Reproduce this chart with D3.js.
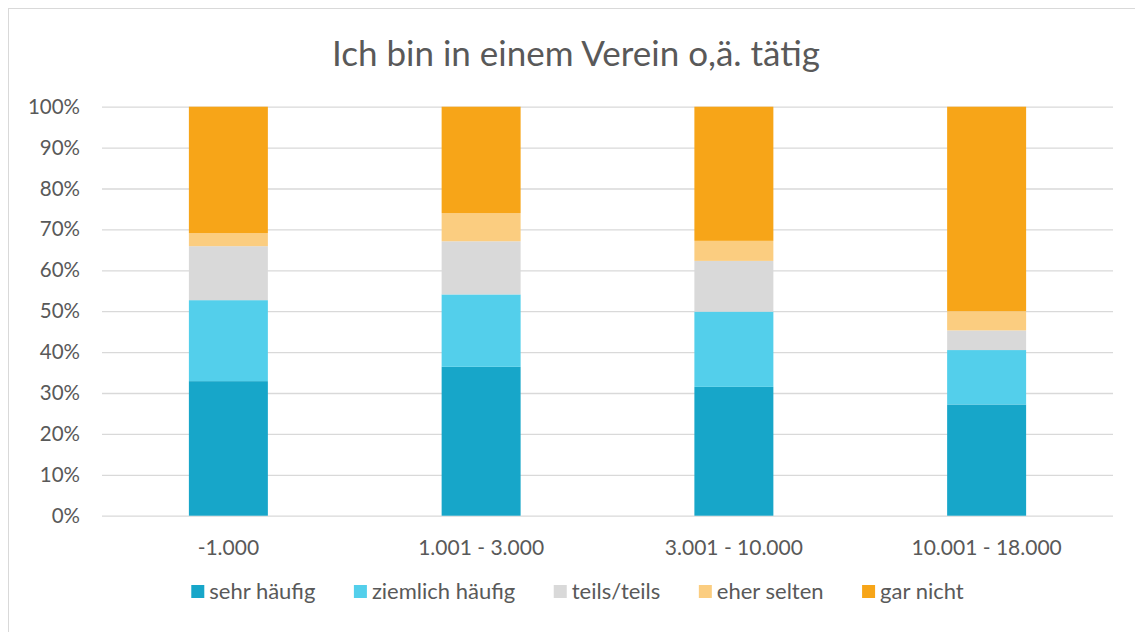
<!DOCTYPE html>
<html><head><meta charset="utf-8">
<script src="https://cdn.jsdelivr.net/npm/d3@7"></script>
<style>body{margin:0;background:#fff;} svg{display:block;} text{font-family:Lato, "Open Sans", sans-serif;}</style>
</head><body>
<svg id="c" width="1135" height="632"></svg>
<script>
const categories = ["-1.000", "1.001 - 3.000", "3.001 - 10.000", "10.001 - 18.000"];
const seriesNames = ["sehr häufig", "ziemlich häufig", "teils/teils", "eher selten", "gar nicht"];
const sehrHaeufig    = [32.9, 36.4, 31.5, 27.2];
const ziemlichHaeufig= [19.8, 17.7, 18.4, 13.3];
const teilsTeils     = [13.2, 13.0, 12.4, 4.8];
const eherSelten     = [3.2, 6.9, 4.9, 4.7];
const garNicht       = [30.9, 26.0, 32.8, 50.0];
const yTicks = [0,10,20,30,40,50,60,70,80,90,100];
const colors = ["#17A6C9", "#53CFEB", "#D9D9D9", "#FBCD80", "#F7A518"];
const title = "Ich bin in einem Verein o,ä. tätig";

const series = [sehrHaeufig, ziemlichHaeufig, teilsTeils, eherSelten, garNicht];
const rows = categories.map((c,i)=>{const o={cat:c}; seriesNames.forEach((s,j)=>o[s]=series[j][i]); return o;});
const stacked = d3.stack().keys(seriesNames)(rows);

const svg = d3.select("#c");
svg.append("rect").attr("x",8.5).attr("y",8.5).attr("width",1140).attr("height",640)
  .attr("fill","#fff").attr("stroke","#D9D9D9").attr("stroke-width",1);

const x = d3.scaleBand().domain(categories).range([102,1113]).paddingInner(0.6875).paddingOuter(0.34375);
const y = d3.scaleLinear().domain([0,100]).range([515.7,106.7]);

svg.append("text").attr("x",576).attr("y",66).attr("text-anchor","middle")
  .attr("font-size",35).attr("fill","#595959").text(title);

const gy = svg.append("g").attr("transform","translate(102,0)")
  .call(d3.axisLeft(y).tickValues(yTicks).tickFormat(d=>d+"%").tickSize(-(1113-102)).tickPadding(22));
gy.select(".domain").remove();
gy.selectAll(".tick line").attr("stroke","#D9D9D9").attr("stroke-width",1.3);
gy.selectAll(".tick text").attr("font-size",20.5).attr("fill","#595959");

svg.append("g").selectAll("g").data(stacked).join("g").attr("fill",(d,i)=>colors[i])
  .selectAll("rect").data(d=>d).join("rect")
  .attr("x",d=>x(d.data.cat)).attr("width",x.bandwidth())
  .attr("y",d=>y(d[1])).attr("height",d=>y(d[0])-y(d[1]));

const gx = svg.append("g").attr("transform","translate(0,515.7)")
  .call(d3.axisBottom(x).tickSize(0).tickPadding(24.5));
gx.select(".domain").remove();
gx.selectAll(".tick text").attr("font-size",21).attr("fill","#595959");

// legend: measure and center
const lg = svg.append("g");
const items = seriesNames.map((s,i)=>{
  const g = lg.append("g");
  g.append("rect").attr("x",0).attr("y",-14).attr("width",13).attr("height",13).attr("fill",colors[i]);
  const t = g.append("text").attr("x",18).attr("y",0).attr("font-size",22).attr("fill","#595959").text(s);
  return {g, w: 18 + t.node().getComputedTextLength()};
});
const gap = 38.5;
const total = d3.sum(items, d=>d.w) + gap*(items.length-1);
let cx = 577.5 - total/2;
items.forEach(it=>{ it.g.attr("transform",`translate(${cx},599)`); cx += it.w + gap; });
</script>
</body></html>
